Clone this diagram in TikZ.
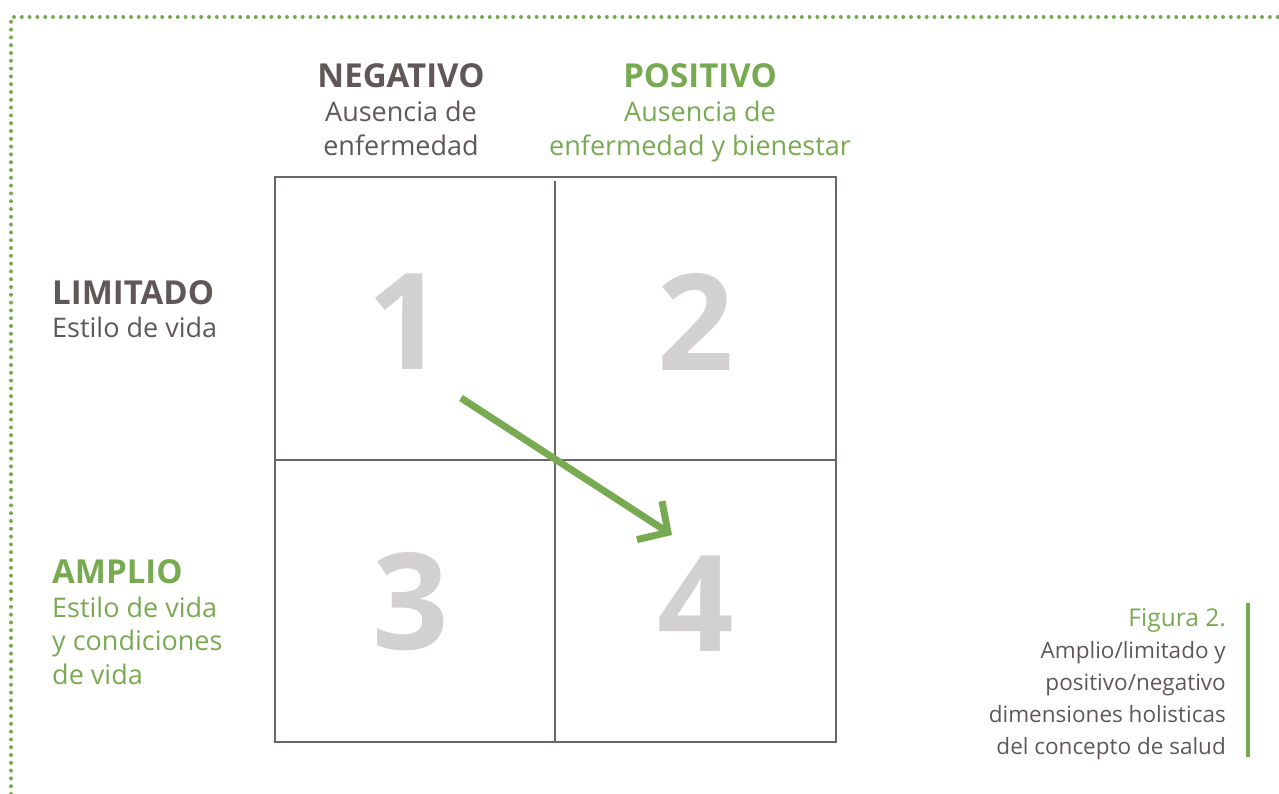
\documentclass[tikz,border=0pt]{standalone}
\usepackage{fontspec}
\setmainfont{Open Sans}
\usetikzlibrary{arrows.meta}
\definecolor{ggreen}{HTML}{78AA52}
\definecolor{dgray}{HTML}{5F5857}
\definecolor{lgray}{HTML}{D2D0D0}
\definecolor{lgrid}{HTML}{6B6566}
\tikzset{
  head/.style={font=\fontsize{33}{35}\selectfont\bfseries, inner sep=0pt, anchor=base},
  sub/.style={font=\fontsize{27}{34}\selectfont, inner sep=0pt, align=center, anchor=base},
  lhead/.style={font=\fontsize{33}{35}\selectfont\bfseries, inner sep=0pt, anchor=base west},
  lsub/.style={font=\fontsize{27}{33.5}\selectfont, inner sep=0pt, align=left, anchor=base west},
  num/.style={font=\fontsize{134}{134}\selectfont\bfseries, text=lgray, inner sep=0pt},
  gridline/.style={draw=lgrid, line width=2.5pt},
  figlabel/.style={font=\fontsize{24.5}{30}\selectfont, inner sep=0pt, anchor=base east},
  captext/.style={font=\fontsize{22.5}{32}\selectfont, inner sep=0pt, align=right, anchor=base east},
}
\begin{document}
\begin{tikzpicture}[x=1pt,y=-1pt]
\useasboundingbox (0,0) rectangle (1279,794);
% dotted border
\draw[ggreen, line width=4pt, line cap=round, dash pattern=on 0pt off 7.8pt] (11,794) -- (11,17) -- (1279,17);
% grid
\draw[gridline] (275,177) rectangle (836,742);
\draw[gridline] (555,181) -- (555,742);
\draw[gridline] (275,460) -- (836,460);
% numbers
\node[num] (n1) at (406,322) {1};
\node[num] (n2) at (696,322) {2};
\node[num] (n3) at (411,602) {3};
\node[num] (n4) at (696,604) {4};
% column heads
\node[head, text=dgray] (neg) at (401,88) {NEGATIVO};
\node[sub, text=dgray] (negs) at (401,156) {Ausencia de\\enfermedad};
\node[head, text=ggreen] (pos) at (700,88) {POSITIVO};
\node[sub, text=ggreen] (poss) at (700,156) {Ausencia de\\enfermedad y bienestar};
% row heads
\node[lhead, text=dgray] (lim) at (52,304) {LIMITADO};
\node[lsub, text=dgray] (lims) at (52,337) {Estilo de vida};
\node[lhead, text=ggreen] (amp) at (52,583) {AMPLIO};
\node[lsub, text=ggreen] (amps) at (52,684) {Estilo de vida\\y condiciones\\de vida};
% arrow
\coordinate (a0) at (461,398);
\coordinate (a1) at (672,535);
\draw[ggreen, line width=7pt, -{Straight Barb[length=22pt,width=46pt]}] (a0) -- (a1);
% caption
\node[figlabel, text=ggreen] (fig) at (1226,626) {Figura 2.};
\node[captext, text=dgray] (figt) at (1226,754) {Amplio/limitado y\\positivo/negativo\\dimensiones holisticas\\del concepto de salud};
\draw[ggreen, line width=4.5pt] (1248,603) -- (1248,757);
\end{tikzpicture}
\end{document}
